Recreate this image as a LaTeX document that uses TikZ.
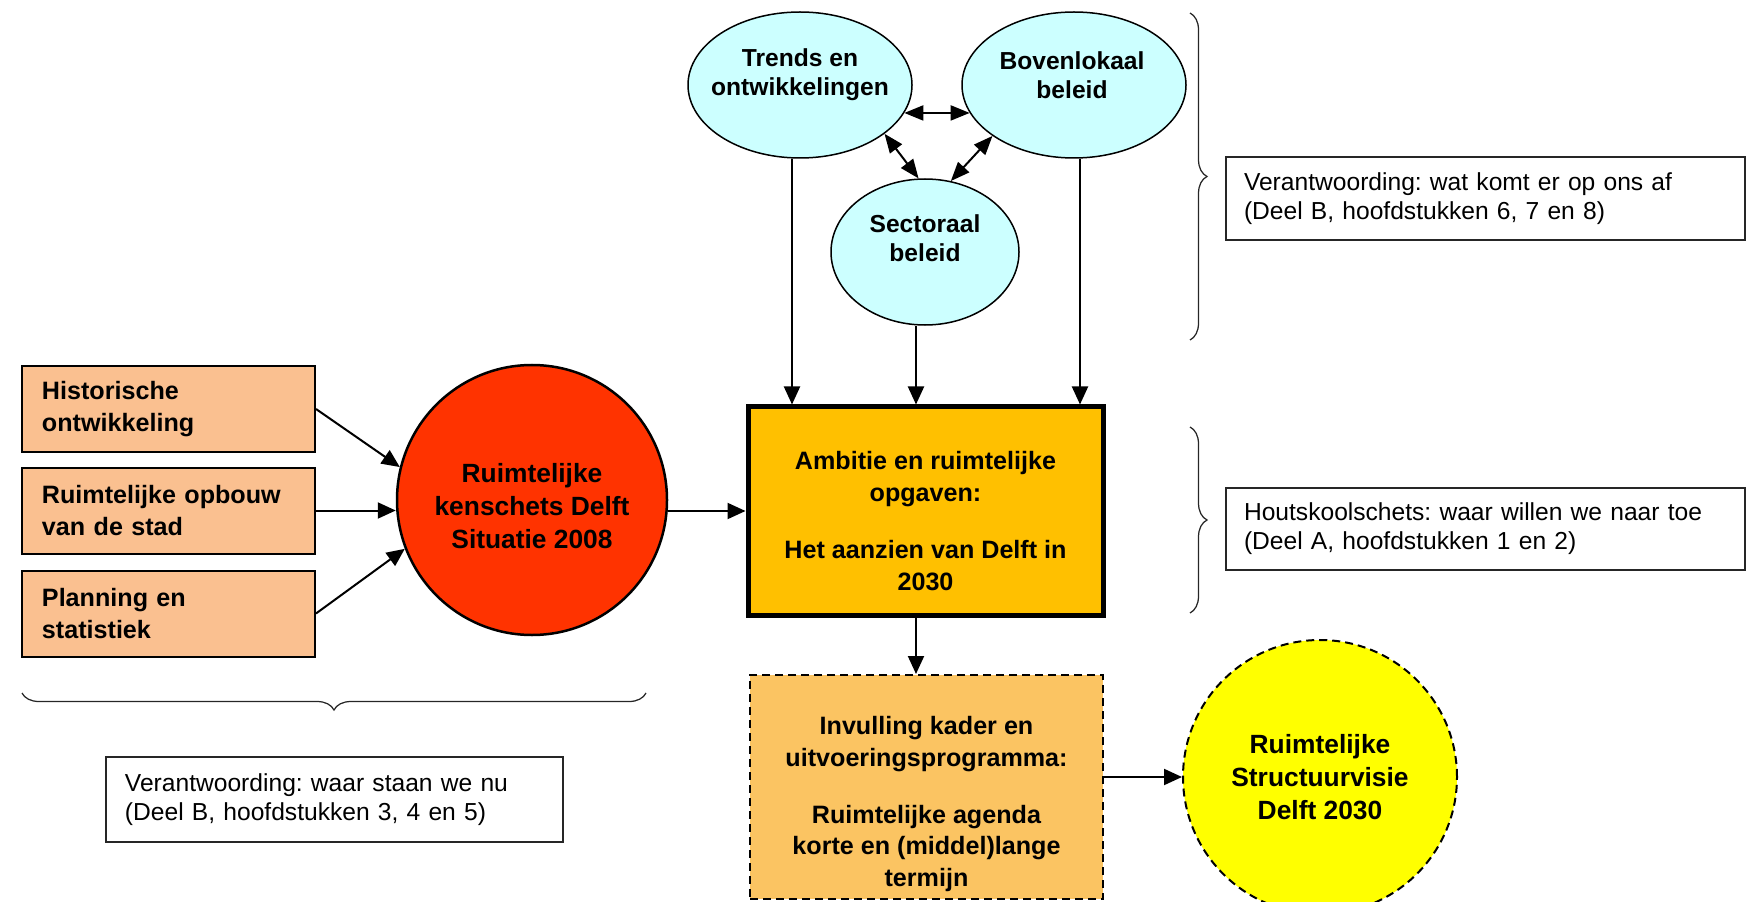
\documentclass[tikz,border=0pt]{standalone}
\usepackage{fontspec}
\setmainfont{Liberation Sans}
\usetikzlibrary{arrows.meta,shapes.geometric,decorations.pathreplacing}
\definecolor{peach}{HTML}{FAC090}
\definecolor{redc}{HTML}{FF3300}
\definecolor{amber}{HTML}{FFC000}
\definecolor{lorange}{HTML}{FBC462}
\definecolor{cyanlt}{HTML}{CCFFFF}
\definecolor{yel}{HTML}{FFFF00}
\begin{document}
\begin{tikzpicture}[x=0.2mm,y=-0.2mm,
  every node/.style={inner sep=0pt},
  bfont/.style={font=\bfseries\frenchspacing\fontsize{14.3}{17.8}\selectfont},
  cfont/.style={font=\bfseries\frenchspacing\fontsize{15}{18.8}\selectfont},
  pbox/.style={draw=black, line width=0.4mm, fill=peach, minimum height=17.2mm, text width=50.6mm, inner xsep=4mm, align=left, bfont},
  ell/.style={ellipse, draw=black, line width=0.3mm, fill=cyanlt},
  etext/.style={font=\bfseries\fontsize{14}{16.5}\selectfont, align=center},
  arr/.style={line width=0.4mm, -{Triangle[length=3.6mm,width=3.2mm]}},
  darr/.style={line width=0.4mm, {Triangle[length=3.8mm,width=3mm]}-{Triangle[length=3.8mm,width=3mm]}},
  note/.style={draw=black!85, line width=0.35mm, fill=white, font=\frenchspacing\fontsize{14}{16.5}\selectfont, align=left, inner xsep=3.6mm},
  brc/.style={decorate, decoration={brace, amplitude=3.4mm}, line width=0.25mm, draw=black!85},
  dashline/.style={line width=0.4mm, dash pattern=on 1.6mm off 1mm}
]
\useasboundingbox (0,0) rectangle (1754,902);

% top ellipses
\node[ell, minimum width=44.8mm, minimum height=29.2mm] (trends) at (800,85) {};
\node[etext] (trendsT) at (800,75) {Trends en\\ontwikkelingen};
\node[ell, minimum width=44.8mm, minimum height=29.2mm] (bov) at (1074,85) {};
\node[etext] (bovT) at (1072,75) {Bovenlokaal\\beleid};
\node[ell, minimum width=37.6mm, minimum height=29.2mm] (sec) at (925,252) {};
\node[etext] (secT) at (925,238) {Sectoraal\\beleid};

% left boxes
\node[pbox] (hist) at (168.5,409) {Historische\\ontwikkeling};
\node[pbox] (opb) at (168.5,510.5) {Ruimtelijke opbouw\\van de stad};
\node[pbox] (plan) at (168.5,613.5) {Planning en\\statistiek};

% red circle
\node[circle, draw=black, line width=0.5mm, fill=redc, minimum size=54mm] (red) at (532,500) {};
\node[align=center, cfont] (redT) at (532,506) {Ruimtelijke\\kenschets Delft\\Situatie 2008};

% amber box
\node[draw=black, line width=1mm, fill=amber, minimum width=71mm, minimum height=41.6mm] (amb) at (925.5,511) {};
\node[align=center, bfont] (ambT) at (925.5,521) {Ambitie en ruimtelijke\\opgaven:\\[15pt]Het aanzien van Delft in\\2030};

% dashed box
\node[draw=black, dashline, fill=lorange, minimum width=70.6mm, minimum height=44.8mm] (invul) at (926.5,787) {};
\node[align=center, bfont] (invulT) at (926.5,804) {Invulling kader en\\uitvoeringsprogramma:\\[15pt]Ruimtelijke agenda\\korte en (middel)lange\\termijn};

% yellow circle
\node[circle, draw=black, dashline, fill=yel, minimum size=54.8mm, align=center, cfont] (yc) at (1320,777) {Ruimtelijke\\Structuurvisie\\Delft 2030};

% notes
\node[note, text width=96.6mm, minimum height=16.6mm] (n1) at (1485.5,198.5) {Verantwoording: wat komt er op ons af\\(Deel B, hoofdstukken 6, 7 en 8)};
\node[note, text width=96.6mm, minimum height=16.4mm] (n2) at (1485.5,529) {Houtskoolschets: waar willen we naar toe\\(Deel A, hoofdstukken 1 en 2)};
\node[note, text width=83.8mm, inner xsep=3.8mm, minimum height=17mm] (n3) at (334.5,799.5) {Verantwoording: waar staan we nu\\(Deel B, hoofdstukken 3, 4 en 5)};

% connectors
\draw[arr] (hist.east) -- (red.166);
\draw[arr] (opb.east) -- (opb.east -| red.west);
\draw[arr] (plan.east) -- (red.201);
\draw[arr] (amb.west -| red.east) -- (amb.west);
\draw[arr] ([xshift=-1.6mm]trends.south) -- ([xshift=-1.6mm]trends.south |- amb.north);
\draw[arr] ([xshift=-1.8mm]sec.south) -- ([xshift=-1.8mm]sec.south |- amb.north);
\draw[arr] ([xshift=1.2mm]bov.south) -- ([xshift=1.2mm]bov.south |- amb.north);
\draw[arr] ([xshift=-1.9mm]amb.south) -- ([xshift=-1.9mm]amb.south |- invul.north);
\draw[arr] (yc.west -| invul.east) -- (yc.west);
\draw[darr] (trends.-15) -- (bov.195);
\draw[darr] (trends.-30) -- (sec.95);
\draw[darr] (bov.212) -- (sec.70);

% braces
\draw[brc] (1190,13) -- (1190,340);
\draw[brc] (1190,427) -- (1190,613);
\draw[brc] (646,693) -- (22,693);
\end{tikzpicture}
\end{document}
